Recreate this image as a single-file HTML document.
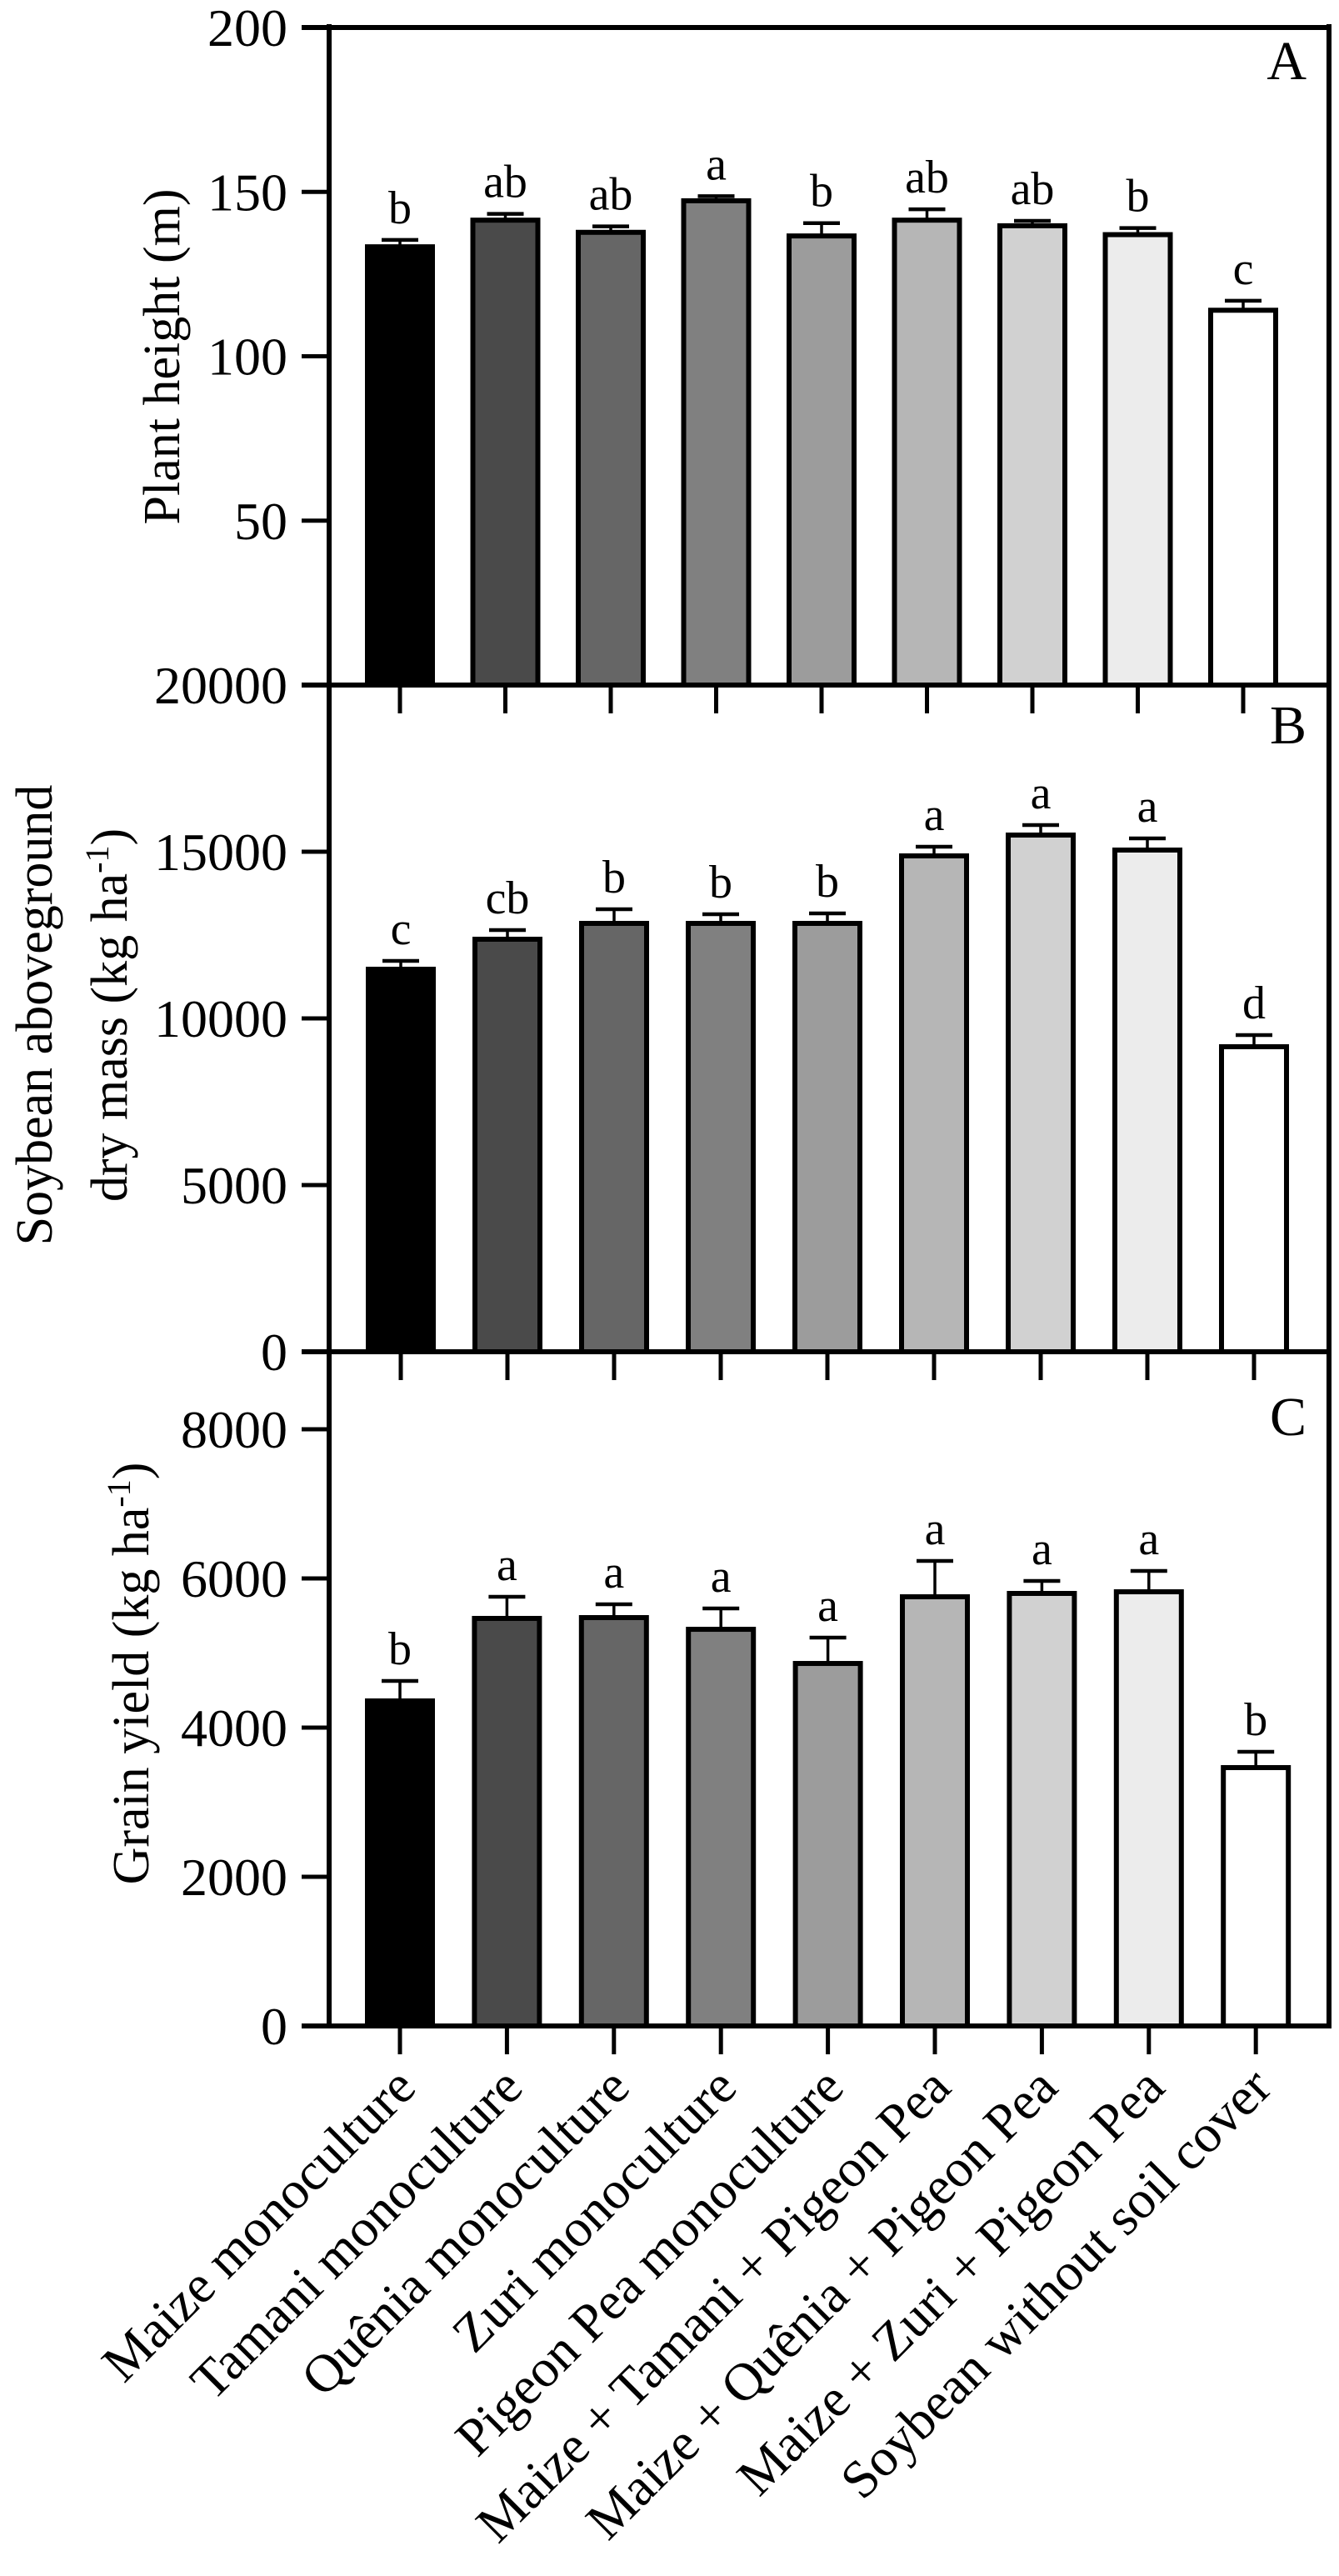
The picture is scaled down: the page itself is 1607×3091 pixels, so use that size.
<!DOCTYPE html>
<html><head><meta charset="utf-8">
<style>
html,body{margin:0;padding:0;background:#fff;}
svg{display:block;font-family:"Liberation Serif","Times New Roman",serif;}
</style></head>
<body>
<svg id="chart" width="1607" height="3091" viewBox="0 0 1607 3091" xmlns="http://www.w3.org/2000/svg">
<g id="g"></g>
</svg>
<script>
const categories = ["Maize monoculture","Tamani monoculture","Quênia monoculture","Zuri monoculture","Pigeon Pea monoculture","Maize + Tamani + Pigeon Pea","Maize + Quênia + Pigeon Pea","Maize + Zuri + Pigeon Pea","Soybean without soil cover"];
const fills = ["#000000","#4a4a4a","#666666","#808080","#9c9c9c","#b6b6b6","#d1d1d1","#ececec","#ffffff"];
const heightVals = [133.3,141.4,137.7,147.3,136.6,141.4,139.7,137.0,114.0];
const heightErr = [2.1,1.9,1.8,1.4,3.9,3.3,1.5,2.0,2.9];
const heightLetters = ["b","ab","ab","a","b","ab","ab","b","c"];
const massVals = [11475,12375,12850,12850,12850,14875,15500,15050,9150];
const massErr = [250,275,425,275,300,275,300,350,350];
const massLetters = ["c","cb","b","b","b","a","a","a","d"];
const yieldVals = [4358,5464,5475,5318,4860,5754,5799,5821,3464];
const yieldErr = [268,290,179,280,347,481,167,280,212];
const yieldLetters = ["b","a","a","a","a","a","a","a","b"];
const heightTicks = [50,100,150,200];
const massTicks = [0,5000,10000,15000,20000];
const yieldTicks = [0,2000,4000,6000,8000];

const NS="http://www.w3.org/2000/svg";
const g=document.getElementById('g');
function el(tag,attrs,text){const e=document.createElementNS(NS,tag);for(const k in attrs)e.setAttribute(k,attrs[k]);if(text!==undefined)e.textContent=text;g.appendChild(e);return e;}

const X0=395, XR=1595;
const panels=[
 {key:'a',top:32,bottom:822,vals:heightVals,err:heightErr,letters:heightLetters,ticks:heightTicks,c0:480,step:126.5,label:'A',labelY:95},
 {key:'b',top:822,bottom:1622,vals:massVals,err:massErr,letters:massLetters,ticks:massTicks,c0:481,step:128,label:'B',labelY:892},
 {key:'c',top:1622,bottom:2431,vals:yieldVals,err:yieldErr,letters:yieldLetters,ticks:yieldTicks,c0:480,step:128.4,label:'C',labelY:1722}
];
panels[0].y=v=>822-(v/200)*(822-33);
panels[1].y=v=>1622-(v/20000)*800;
panels[2].y=v=>2431-(v/2000)*179;

panels.forEach(p=>{
  p.vals.forEach((v,i)=>{
    const cx=p.c0+i*p.step;
    const yt=p.y(v), ye=p.y(v+p.err[i]);
    let r=el('rect',{x:cx-39,y:yt,width:78,height:p.bottom-yt,fill:fills[i],stroke:'#000','stroke-width':6});
    
    
    let l=el('line',{x1:cx,y1:yt,x2:cx,y2:ye,stroke:'#000','stroke-width':3.5});
    
    
    let c=el('line',{x1:cx-22,y1:ye,x2:cx+22,y2:ye,stroke:'#000','stroke-width':4.5});
    
    
    let t=el('text',{x:cx,y:ye-20,'text-anchor':'middle','font-size':56,fill:'#000'},p.letters[i]);
    
    
    let xt=el('line',{x1:cx,y1:p.bottom,x2:cx,y2:p.bottom+34,stroke:'#000','stroke-width':5});
    
    
  });
  let ya=el('line',{x1:X0,y1:p.top-3,x2:X0,y2:p.bottom+3,stroke:'#000','stroke-width':6});
  
  
  let rb=el('line',{x1:XR,y1:p.top-3,x2:XR,y2:p.bottom+3,stroke:'#000','stroke-width':6});
  
  
  let xa=el('line',{x1:362,y1:p.bottom,x2:XR+3,y2:p.bottom,stroke:'#000','stroke-width':6});
  
  
  p.ticks.forEach(tv=>{
    const ty=p.y(tv);
    let tk=el('line',{x1:362,y1:ty,x2:X0,y2:ty,stroke:'#000','stroke-width':5});
    
    
    let tl=el('text',{x:345,y:ty+22,'text-anchor':'end','font-size':64,fill:'#000'},String(tv));
    
    
  });
  let pl=el('text',{x:1568,y:p.labelY,'text-anchor':'end','font-size':66,fill:'#000'},p.label);
  
  
});
let tb=el('line',{x1:362,y1:33,x2:XR+3,y2:33,stroke:'#000','stroke-width':6});



function vtitle(x,y,txt,name,sup){
  const t=el('text',{x:0,y:0,'text-anchor':'middle','font-size':62,fill:'#000',transform:'translate('+x+','+y+') rotate(-90)'});
  
  
  if(sup){
    const parts=txt.split('^');
    const a=document.createElementNS(NS,'tspan');a.textContent=parts[0];t.appendChild(a);
    const s=document.createElementNS(NS,'tspan');s.setAttribute('dy','-22');s.setAttribute('font-size','40');s.textContent='-1';t.appendChild(s);
    const b=document.createElementNS(NS,'tspan');b.setAttribute('dy','22');b.textContent=')';t.appendChild(b);
  } else t.textContent=txt;
  return t;
}
vtitle(215,428,'Plant height (m)','y-axis-title-a',false);
vtitle(62,1218,'Soybean aboveground','y-axis-title-b-line1',false);
vtitle(152,1218,'dry mass (kg ha^','y-axis-title-b-line2',true);
vtitle(178,2008,'Grain yield (kg ha^','y-axis-title-c',true);

categories.forEach((c,i)=>{
  const cx=480+i*128.4;
  const t=el('text',{x:cx+6,y:2492,'text-anchor':'end','font-size':64,fill:'#000',transform:'rotate(-45 '+(cx+6)+' 2492)',dy:'0.35em'},c);
  
  
});
</script>
</body></html>
